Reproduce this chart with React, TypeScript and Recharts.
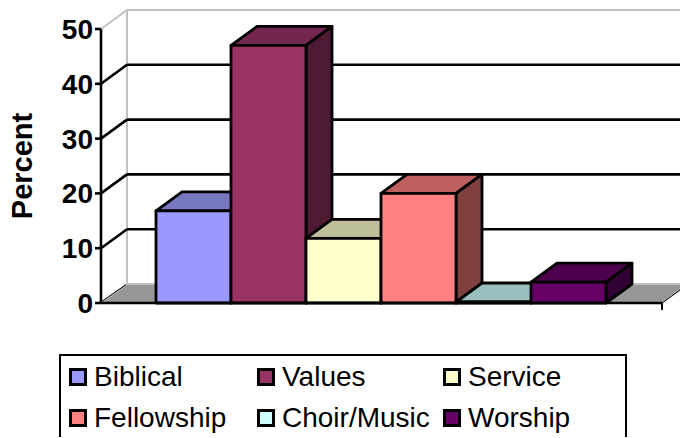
import { BarChart, Bar, XAxis, YAxis, ReferenceLine, Legend } from "recharts";

const seriesNames = ["Biblical", "Values", "Service", "Fellowship", "Choir/Music", "Worship"];
const seriesValues = [16.8, 47, 11.8, 20, 0, 3.8];
const frontColors = ["#9999ff", "#993366", "#ffffcc", "#ff8080", "#ccffff", "#660066"];
const topColors = ["#7777bf", "#732650", "#bfbf99", "#bf6060", "#99bfbf", "#4d004d"];
const sideColors = ["#4d4d80", "#4d1a33", "#808066", "#804040", "#668080", "#330033"];
const yTicks = [0, 10, 20, 30, 40, 50];

const row: Record<string, string | number> = { name: "" };
seriesNames.forEach((s, i) => {
  row[s] = seriesValues[i];
});
const data = [row];

// depth of the fake 3D box
const DX = 26;
const DY = -19;

const Box3D = ({ x, y, width, height, fill, top, side }: any) => {
  const r = x + width;
  const b = y + height;
  return (
    <g stroke="#000" strokeWidth={2.8} strokeLinejoin="round">
      <polygon points={`${x},${y} ${x + DX},${y + DY} ${r + DX},${y + DY} ${r},${y}`} fill={top} />
      <polygon points={`${r},${y} ${r + DX},${y + DY} ${r + DX},${b + DY} ${r},${b}`} fill={side} />
      <rect x={x} y={y} width={width} height={height} fill={fill} />
    </g>
  );
};

// back wall gridline plus the diagonal on the left wall
const GridLine3D = ({ x1, y1, x2 }: any) => (
  <g fill="none" stroke="#000" strokeWidth={2.6}>
    <line x1={x1} y1={y1} x2={x1 + DX} y2={y1 + DY} />
    <line x1={x1 + DX} y1={y1 + DY} x2={x2 + DX} y2={y1 + DY} />
  </g>
);

const FloorAndWalls = ({ x1, y1, x2 }: any) => (
  <g>
    <polygon
      points={`${x1},${y1} ${x1 + DX},${y1 + DY} ${x2 + DX},${y1 + DY} ${x2},${y1}`}
      fill="#969696"
      stroke="#c0c0c0"
      strokeWidth={2}
    />
    <line x1={x1} y1={y1 - 1} x2={x1 + DX} y2={y1 + DY} stroke="#000" strokeWidth={1} />
    <line x1={x2} y1={y1} x2={x2} y2={y1 + 7} stroke="#000" strokeWidth={2} />
    <line x1={x2} y1={y1} x2={x2 + DX} y2={y1 + DY} stroke="#000" strokeWidth={1} />
  </g>
);

const TopWall = ({ x1, y1, x2 }: any) => (
  <g fill="none" stroke="#c0c0c0" strokeWidth={2}>
    <line x1={x1} y1={y1} x2={x1 + DX} y2={y1 + DY} />
    <line x1={x1 + DX} y1={y1 + DY} x2={x2 + DX} y2={y1 + DY} />
    <line x1={x1 + DX} y1={y1 + DY} x2={x1 + DX} y2={y1 + DY + 275} />
  </g>
);

const LegendBox = ({ payload }: any) => (
  <div
    style={{
      boxSizing: "border-box",
      width: 568,
      height: 83,
      border: "2px solid #000",
      borderBottom: "none",
      display: "grid",
      gridTemplateColumns: "188px 186px 180px",
      gridAutoRows: "41px",
      paddingLeft: 8,
      paddingTop: 0,
      fontFamily: "'Liberation Sans', Arial, sans-serif",
      fontSize: 28,
      color: "#000",
      background: "#fff",
    }}
  >
    {(payload ?? []).map((p: any) => (
      <div key={p.value} style={{ display: "flex", alignItems: "center", whiteSpace: "nowrap" }}>
        <span
          style={{
            boxSizing: "border-box",
            width: 18,
            height: 18,
            border: "3px solid #000",
            background: p.color,
            marginRight: 7,
            flex: "none",
          }}
        />
        {p.value}
      </div>
    ))}
  </div>
);

const App = () => (
  <div style={{ position: "absolute", left: 0, top: 0, width: 680, height: 438, overflow: "hidden" }}>
    <BarChart
      width={680}
      height={438}
      data={data}
      margin={{ top: 29, right: 18, bottom: 51, left: 0 }}
      barCategoryGap={55}
      barGap={0}
      style={{ fontFamily: "'Liberation Sans', Arial, sans-serif" }}
    >
      <ReferenceLine y={0} ifOverflow="visible" zIndex={-10} shape={<FloorAndWalls />} />
      <ReferenceLine y={50} ifOverflow="visible" zIndex={-10} shape={<TopWall />} />
      {yTicks.slice(1, 5).map((t) => (
        <ReferenceLine key={t} y={t} ifOverflow="visible" zIndex={-10} shape={<GridLine3D />} />
      ))}
      <XAxis dataKey="name" tick={false} tickLine={false} axisLine={{ stroke: "#000", strokeWidth: 2.6 }} height={1} />
      <YAxis
        domain={[0, 50]}
        ticks={yTicks}
        width={101}
        interval={0}
        tickSize={6}
        tickLine={{ stroke: "#000", strokeWidth: 2.6 }}
        axisLine={{ stroke: "#000", strokeWidth: 2.6 }}
        tick={{ fill: "#000", fontSize: 28, fontWeight: "bold" }}
        label={{
          value: "Percent",
          angle: -90,
          position: "insideLeft",
          offset: 22,
          style: { fill: "#000", fontSize: 29, fontWeight: "bold", textAnchor: "middle" },
        }}
      />
      {seriesNames.map((s, i) => (
        <Bar
          key={s}
          dataKey={s}
          fill={frontColors[i]}
          minPointSize={1}
          isAnimationActive={false}
          shape={<Box3D top={topColors[i]} side={sideColors[i]} />}
        />
      ))}
      <Legend
        content={<LegendBox />}
        itemSorter={null}
        layout="horizontal"
        verticalAlign="bottom"
        align="left"
        wrapperStyle={{ left: 59, top: 354, bottom: "auto", width: 568 }}
      />
    </BarChart>
  </div>
);

export default App;
